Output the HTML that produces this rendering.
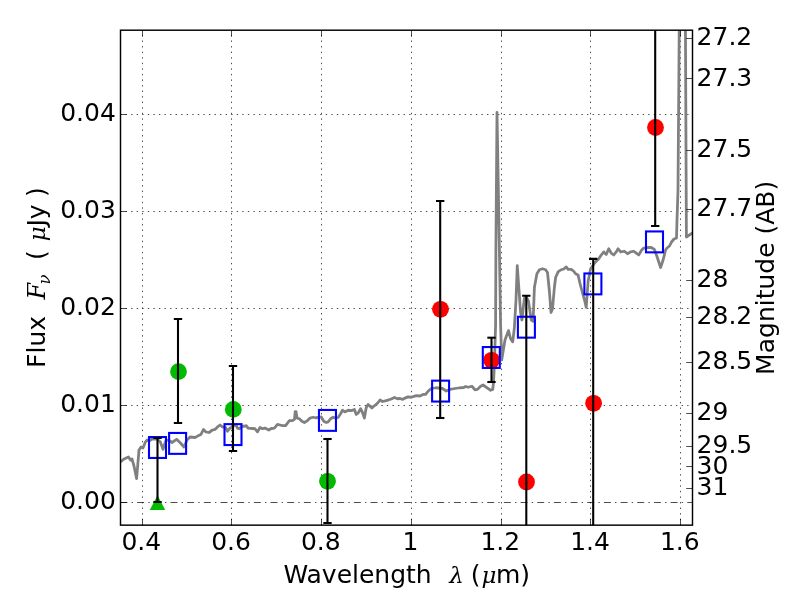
<!DOCTYPE html>
<html><head><meta charset="utf-8"><title>SED plot</title>
<style>
html,body{margin:0;padding:0;background:#fff;}
svg{display:block;}
text{font-family:"DejaVu Sans","Liberation Sans",sans-serif;fill:#000;}
.tk{font-size:25px;}
.lb{font-size:25px;}
.mi{font-family:"DejaVu Serif","Liberation Serif",serif;font-style:italic;}
.grid{stroke:#000;stroke-width:0.7;stroke-dasharray:1.39 4.17;stroke-dashoffset:0.5;fill:none;}
.tick{stroke:#000;stroke-width:0.7;fill:none;}
.eb{stroke:#000;stroke-width:2.08;fill:none;}
.sq{stroke:#0000ff;stroke-width:2.08;fill:none;}
</style></head><body>
<svg width="800" height="600" viewBox="0 0 800 600">
<rect x="0" y="0" width="800" height="600" fill="#fff"/>
<defs><clipPath id="ax"><rect x="120.50" y="30.20" width="572.00" height="494.95"/></clipPath></defs>

<g class="grid">
<line x1="142.50" y1="525.15" x2="142.50" y2="30.20"/>
<line x1="231.50" y1="525.15" x2="231.50" y2="30.20"/>
<line x1="321.50" y1="525.15" x2="321.50" y2="30.20"/>
<line x1="411.50" y1="525.15" x2="411.50" y2="30.20"/>
<line x1="501.50" y1="525.15" x2="501.50" y2="30.20"/>
<line x1="590.50" y1="525.15" x2="590.50" y2="30.20"/>
<line x1="680.50" y1="525.15" x2="680.50" y2="30.20"/>
<line x1="120.50" y1="405.50" x2="692.50" y2="405.50"/>
<line x1="120.50" y1="308.50" x2="692.50" y2="308.50"/>
<line x1="120.50" y1="211.50" x2="692.50" y2="211.50"/>
<line x1="120.50" y1="114.50" x2="692.50" y2="114.50"/>
</g>
<line x1="120.50" y1="502.50" x2="692.50" y2="502.50" stroke="#000" stroke-width="0.7" stroke-dasharray="6.94 4.17 1.39 4.17"/>
<g clip-path="url(#ax)">
<polyline points="119,462.5 121,461.5 124,459 128.5,457 130.5,460 132,459 134,466 136.6,478.7 139,450 141,447 143,448 145.4,442 147,440 149,441 152,439 157,439 160.4,442 163,449.4 164.7,444 166,440.6 168.5,440 172,442.5 176.6,439.4 180,442.5 184,447 187,440 190,437 195,437.5 198.5,435.6 201,434.4 203.5,429.4 206,432 209,432.5 212.5,430 215,429.4 217.5,426.9 220,425 222.5,426.9 225.6,427.5 227.5,431.25 230,428.1 232.5,426.9 235.6,424.4 237.5,428.1 239.4,428.75 241.9,426.25 244.4,426.25 246.25,425.6 248.1,428.1 252.5,428.5 255,428.75 257.5,431.9 260,427.5 262.5,428.75 265,428.1 268.75,430 271.25,428.5 274.4,428.1 277.5,424.4 280,425 282.5,425.6 285.6,425.6 289.4,420.6 292.5,420.6 294.5,419.4 295.2,411.6 296.0,411.6 297.1,418.1 299.4,418.75 301.9,421.25 304.4,422.5 307.5,420.6 310,418.1 313.1,417.25 315.6,417.75 318.75,417.5 321.25,416.9 323.75,421.25 326.25,422.5 328.1,421.9 330.6,418.75 333.1,417.25 335.6,418.1 338.1,417.5 340.6,413.75 342.5,410.25 345,411.9 348.1,410.25 351.9,410.6 354.4,409.4 356.25,414.4 358.1,413.1 360.6,408.75 362.5,412.5 364.4,418.1 366.25,407.5 368.1,404.4 370,406.25 371.9,408.1 373.75,406.25 376.25,404.4 378.1,402.5 380,400 382.5,401.5 386.25,400.6 391.25,399 394.4,397.5 397.5,398.75 400,398.5 402.5,399.4 405,398.1 408.1,396.9 411.25,397.25 416.25,395.6 420,396 423.1,394.4 425.6,394.4 428.1,391.25 431.25,388.5 436.25,387.75 442.5,388.5 446.25,391 450,389.4 455,388.5 460,387.75 463.75,387.5 465.6,386.5 468.1,387.25 471.9,386.25 475,389.75 477.5,389.4 480.6,386.25 483.1,385 487.5,388.1 490.6,390.25 492.75,389.4 493.5,382.5 494.4,365 495.6,325 495.9,250 497,112.3 499.4,250 500.6,325 501.7,360 505,340 508.5,330.6 510.6,338.75 512.75,341.9 514.4,327.5 516,300 517.25,265.6 520.6,312.5 521.9,320 524.4,298.1 526.3,297 528.5,301.25 531.25,320 533.1,321.25 534.4,287.5 536.9,273.75 539.4,269.75 542.5,268.75 545.6,269.75 547.5,272.5 549.4,291.25 551,312.5 552.5,308.75 554.4,287.5 555.6,277.5 558.1,271.9 560.6,270 563.75,269 566.25,266.9 568.1,269.4 571.25,269.4 573.75,271.25 575.6,273.75 578.1,275 580,283.5 583.1,295 585,302 586.2,307.5 588.1,281.25 590.6,268.75 595,262.5 598.75,258.75 601.25,255 603.75,251.9 606.25,254.4 608.75,248.75 611.25,253.1 613.75,255 616.25,251.9 618.1,248.75 620.6,251.9 624.4,251.25 627.5,253.75 630.6,251.9 633.75,251.25 636.25,253.1 638.75,255 641.25,250.6 643.75,248.1 647.5,247.5 651.25,247.5 654.4,249.4 656.9,256.25 660.6,267.5 663.1,260 665.6,250 667,248 669.5,246 671.5,242 674,239 676.5,238 677,220 678,190 679.3,20 685.4,20 686.4,237 692.5,233 695,231.5" fill="none" stroke="#808080" stroke-width="2.78" stroke-linejoin="round" stroke-linecap="butt"/>
<circle cx="178.50" cy="371.60" r="8.4" fill="#00bb00"/>
<circle cx="233.30" cy="409.40" r="8.4" fill="#00bb00"/>
<circle cx="327.50" cy="481.30" r="8.4" fill="#00bb00"/>
<circle cx="440.50" cy="309.30" r="8.4" fill="#ff0000"/>
<circle cx="491.60" cy="360.30" r="8.4" fill="#ff0000"/>
<circle cx="526.50" cy="482.00" r="8.4" fill="#ff0000"/>
<circle cx="593.60" cy="403.30" r="8.4" fill="#ff0000"/>
<circle cx="655.50" cy="127.50" r="8.4" fill="#ff0000"/>
<polygon points="157.5,495.3 149.8,509.9 165.2,509.9" fill="#00bb00"/>
<rect class="sq" x="149.00" y="437.05" width="17" height="20.9"/>
<rect class="sq" x="169.10" y="432.95" width="17" height="20.9"/>
<rect class="sq" x="224.50" y="424.15" width="17" height="20.9"/>
<rect class="sq" x="318.95" y="409.95" width="17" height="20.9"/>
<rect class="sq" x="432.10" y="380.65" width="17" height="20.9"/>
<rect class="sq" x="482.80" y="347.05" width="17" height="20.9"/>
<rect class="sq" x="517.90" y="316.75" width="17" height="20.9"/>
<rect class="sq" x="584.40" y="273.45" width="17" height="20.9"/>
<rect class="sq" x="646.00" y="231.45" width="17" height="20.9"/>
<line class="eb" x1="157.50" y1="438.00" x2="157.50" y2="502.00"/>
<line class="eb" x1="153.33" y1="438.00" x2="161.67" y2="438.00"/>
<line class="eb" x1="153.33" y1="502.00" x2="161.67" y2="502.00"/>
<line class="eb" x1="178.00" y1="319.00" x2="178.00" y2="423.00"/>
<line class="eb" x1="173.83" y1="319.00" x2="182.17" y2="319.00"/>
<line class="eb" x1="173.83" y1="423.00" x2="182.17" y2="423.00"/>
<line class="eb" x1="233.00" y1="366.00" x2="233.00" y2="451.00"/>
<line class="eb" x1="228.83" y1="366.00" x2="237.17" y2="366.00"/>
<line class="eb" x1="228.83" y1="451.00" x2="237.17" y2="451.00"/>
<line class="eb" x1="327.50" y1="439.00" x2="327.50" y2="523.00"/>
<line class="eb" x1="323.33" y1="439.00" x2="331.67" y2="439.00"/>
<line class="eb" x1="323.33" y1="523.00" x2="331.67" y2="523.00"/>
<line class="eb" x1="440.20" y1="201.00" x2="440.20" y2="418.00"/>
<line class="eb" x1="436.03" y1="201.00" x2="444.37" y2="201.00"/>
<line class="eb" x1="436.03" y1="418.00" x2="444.37" y2="418.00"/>
<line class="eb" x1="491.50" y1="337.70" x2="491.50" y2="382.00"/>
<line class="eb" x1="487.33" y1="337.70" x2="495.67" y2="337.70"/>
<line class="eb" x1="487.33" y1="382.00" x2="495.67" y2="382.00"/>
<line class="eb" x1="526.30" y1="295.80" x2="526.30" y2="545.15"/>
<line class="eb" x1="522.13" y1="295.80" x2="530.47" y2="295.80"/>
<line class="eb" x1="593.20" y1="258.90" x2="593.20" y2="545.15"/>
<line class="eb" x1="589.03" y1="258.90" x2="597.37" y2="258.90"/>
<line class="eb" x1="655.20" y1="10.20" x2="655.20" y2="226.00"/>
<line class="eb" x1="651.03" y1="226.00" x2="659.37" y2="226.00"/>
</g>
<g class="tick">
<line x1="142.50" y1="525.15" x2="142.50" y2="518.85"/>
<line x1="142.50" y1="30.20" x2="142.50" y2="36.50"/>
<line x1="231.50" y1="525.15" x2="231.50" y2="518.85"/>
<line x1="231.50" y1="30.20" x2="231.50" y2="36.50"/>
<line x1="321.50" y1="525.15" x2="321.50" y2="518.85"/>
<line x1="321.50" y1="30.20" x2="321.50" y2="36.50"/>
<line x1="411.50" y1="525.15" x2="411.50" y2="518.85"/>
<line x1="411.50" y1="30.20" x2="411.50" y2="36.50"/>
<line x1="501.50" y1="525.15" x2="501.50" y2="518.85"/>
<line x1="501.50" y1="30.20" x2="501.50" y2="36.50"/>
<line x1="590.50" y1="525.15" x2="590.50" y2="518.85"/>
<line x1="590.50" y1="30.20" x2="590.50" y2="36.50"/>
<line x1="680.50" y1="525.15" x2="680.50" y2="518.85"/>
<line x1="680.50" y1="30.20" x2="680.50" y2="36.50"/>
<line x1="120.50" y1="502.50" x2="126.80" y2="502.50"/>
<line x1="120.50" y1="405.50" x2="126.80" y2="405.50"/>
<line x1="120.50" y1="308.50" x2="126.80" y2="308.50"/>
<line x1="120.50" y1="211.50" x2="126.80" y2="211.50"/>
<line x1="120.50" y1="114.50" x2="126.80" y2="114.50"/>
<line x1="692.50" y1="38.50" x2="686.20" y2="38.50"/>
<line x1="692.50" y1="78.50" x2="686.20" y2="78.50"/>
<line x1="692.50" y1="150.50" x2="686.20" y2="150.50"/>
<line x1="692.50" y1="209.50" x2="686.20" y2="209.50"/>
<line x1="692.50" y1="280.50" x2="686.20" y2="280.50"/>
<line x1="692.50" y1="317.50" x2="686.20" y2="317.50"/>
<line x1="692.50" y1="362.50" x2="686.20" y2="362.50"/>
<line x1="692.50" y1="413.50" x2="686.20" y2="413.50"/>
<line x1="692.50" y1="446.50" x2="686.20" y2="446.50"/>
<line x1="692.50" y1="466.50" x2="686.20" y2="466.50"/>
<line x1="692.50" y1="488.50" x2="686.20" y2="488.50"/>
</g>
<rect x="120.50" y="30.20" width="572.00" height="494.95" fill="none" stroke="#000" stroke-width="1.45"/>
<text class="tk" x="141.30" y="549.6" text-anchor="middle">0.4</text>
<text class="tk" x="231.05" y="549.6" text-anchor="middle">0.6</text>
<text class="tk" x="320.80" y="549.6" text-anchor="middle">0.8</text>
<text class="tk" x="410.55" y="549.6" text-anchor="middle">1</text>
<text class="tk" x="500.30" y="549.6" text-anchor="middle">1.2</text>
<text class="tk" x="590.05" y="549.6" text-anchor="middle">1.4</text>
<text class="tk" x="679.80" y="549.6" text-anchor="middle">1.6</text>
<text class="tk" x="115.8" y="508.70" text-anchor="end">0.00</text>
<text class="tk" x="115.8" y="411.75" text-anchor="end">0.01</text>
<text class="tk" x="115.8" y="314.80" text-anchor="end">0.02</text>
<text class="tk" x="115.8" y="217.85" text-anchor="end">0.03</text>
<text class="tk" x="115.8" y="120.90" text-anchor="end">0.04</text>
<text class="tk" x="696.6" y="44.67">27.2</text>
<text class="tk" x="696.6" y="85.50">27.3</text>
<text class="tk" x="696.6" y="156.70">27.5</text>
<text class="tk" x="696.6" y="215.92">27.7</text>
<text class="tk" x="696.6" y="286.60">28</text>
<text class="tk" x="696.6" y="323.97">28.2</text>
<text class="tk" x="696.6" y="368.56">28.5</text>
<text class="tk" x="696.6" y="420.28">29</text>
<text class="tk" x="696.6" y="452.91">29.5</text>
<text class="tk" x="696.6" y="473.50">30</text>
<text class="tk" x="696.6" y="494.69">31</text>
<text class="lb" y="582.5"><tspan x="283.4">Wavelength</tspan><tspan class="mi" x="449.3" font-size="23">λ</tspan><tspan x="470.8">(</tspan><tspan class="mi" x="481.5" font-size="23">μ</tspan><tspan x="496">m)</tspan></text>
<text class="lb" transform="translate(44.8,365.5) rotate(-90)"><tspan x="-2.4" y="0">Flux</tspan><tspan class="mi" x="66" font-size="24">F</tspan><tspan class="mi" x="81" y="5" font-size="16.5">ν</tspan><tspan x="105.6" y="0">(</tspan><tspan class="mi" x="124.3" font-size="23">μ</tspan><tspan x="139">Jy</tspan><tspan x="168.6">)</tspan></text>
<text class="lb" transform="translate(773.6,277.8) rotate(-90)" text-anchor="middle">Magnitude (AB)</text>
</svg></body></html>
